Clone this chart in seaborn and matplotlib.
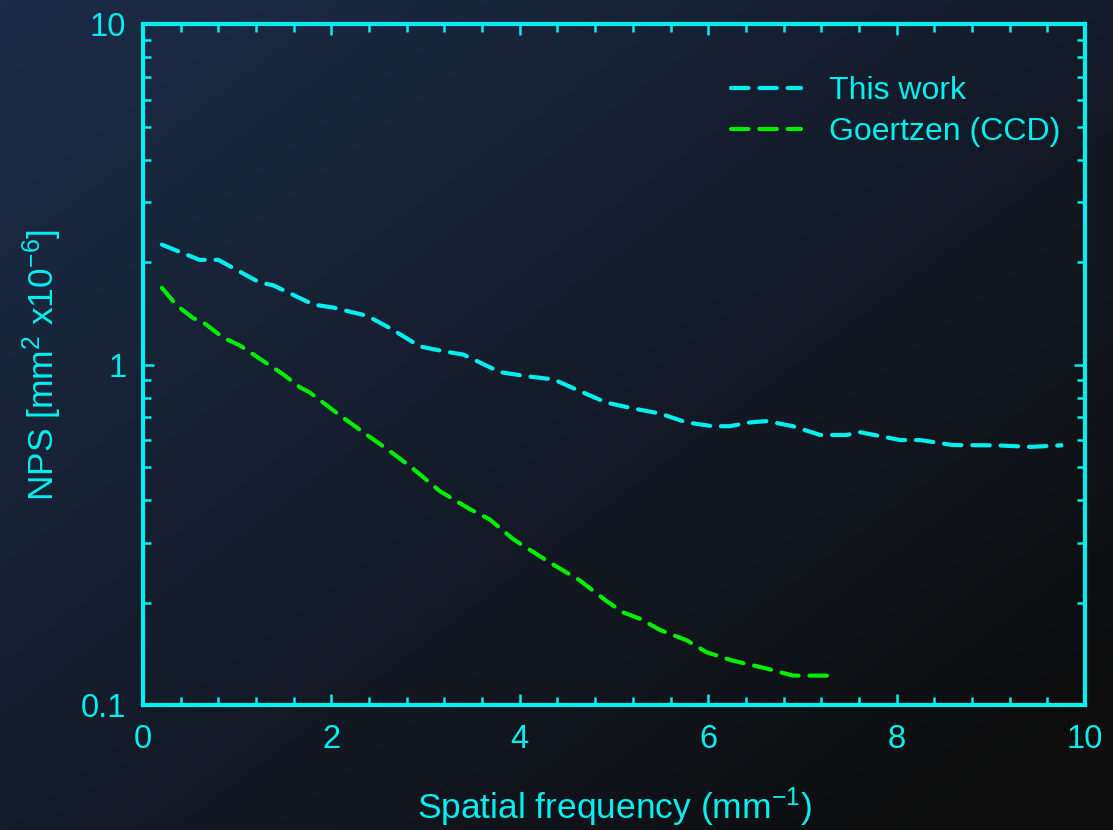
import numpy as np
import matplotlib
matplotlib.use("Agg")
import matplotlib.pyplot as plt
from matplotlib.ticker import FixedLocator, NullFormatter, LogLocator
import seaborn as sns

# "This work" NPS curve
freq_this = [0.2, 0.6, 0.8, 1.24, 1.38, 1.81, 2.02, 2.38, 2.62, 2.94, 3.22, 3.40,
             3.79, 4.07, 4.36, 4.64, 4.92, 5.20, 5.49, 5.77, 6.05, 6.23, 6.44, 6.62,
             6.90, 7.19, 7.47, 7.61, 8.04, 8.25, 8.60, 9.06, 9.42, 9.75]
nps_this = [2.25, 2.03, 2.03, 1.74, 1.71, 1.50, 1.47, 1.39, 1.28, 1.13, 1.09, 1.07,
            0.95, 0.924, 0.904, 0.835, 0.773, 0.743, 0.718, 0.676, 0.659, 0.659, 0.676, 0.682,
            0.659, 0.621, 0.621, 0.633, 0.600, 0.600, 0.580, 0.579, 0.573, 0.579]

# Goertzen (CCD) NPS curve
freq_goertzen = [0.2, 0.36, 0.53, 0.64, 0.85, 1.03, 1.49, 1.67, 1.77, 2.05, 2.34, 2.62,
                 2.85, 3.15, 3.47, 3.68, 3.93, 4.32, 4.64, 4.92, 5.10, 5.28, 5.49, 5.77,
                 5.98, 6.26, 6.62, 6.90, 7.37]
nps_goertzen = [1.68, 1.49, 1.37, 1.33, 1.20, 1.137, 0.935, 0.856, 0.828, 0.723, 0.632, 0.557,
                0.499, 0.425, 0.376, 0.351, 0.307, 0.262, 0.232, 0.202, 0.187, 0.179, 0.166, 0.155,
                0.143, 0.135, 0.128, 0.122, 0.122]

x_ticks = [0, 2, 4, 6, 8, 10]
y_ticks = [0.1, 1, 10]
y_ticklabels = ["0.1", "1", "10"]

CYAN = "#00f0f0"
GREEN = "#00ee00"

sns.set_theme(style="ticks")
plt.rcParams["font.family"] = ["Liberation Sans", "DejaVu Sans"]
plt.rcParams["mathtext.fontset"] = "custom"
plt.rcParams["mathtext.rm"] = "Liberation Sans"
plt.rcParams["mathtext.default"] = "regular"

fig = plt.figure(figsize=(11.13, 8.3), dpi=100)

# dark gradient background
bg = fig.add_axes([0, 0, 1, 1], zorder=0)
h, w = 200, 270
yy, xx = np.mgrid[0:h, 0:w]
t = np.clip((xx / w) * 0.55 + (yy / h) * 0.55, 0, 1) ** 1.1
c0 = np.array([0.11, 0.17, 0.28])
c1 = np.array([0.05, 0.05, 0.05])
img = c0[None, None, :] * (1 - t[..., None]) + c1[None, None, :] * t[..., None]
bg.imshow(img, aspect="auto", extent=[0, 1, 0, 1], interpolation="bilinear")
bg.set_axis_off()

ax = fig.add_axes([0.1285, 0.1506, 0.8463, 0.8204], zorder=1)
ax.set_facecolor("none")

dash = (0, (4.2, 2.6))
sns.lineplot(x=freq_this, y=nps_this, ax=ax, color=CYAN, lw=3.0, linestyle=dash,
             dash_capstyle="round", label="This work", sort=False)
sns.lineplot(x=freq_goertzen, y=nps_goertzen, ax=ax, color=GREEN, lw=3.0, linestyle=dash,
             dash_capstyle="round", label="Goertzen (CCD)", sort=False)

ax.set_yscale("log")
ax.set_xlim(0, 10)
ax.set_ylim(0.1, 10)

ax.xaxis.set_major_locator(FixedLocator(x_ticks))
ax.xaxis.set_minor_locator(FixedLocator(np.arange(0, 10.01, 0.4)))
ax.yaxis.set_major_locator(FixedLocator(y_ticks))
ax.set_yticklabels(y_ticklabels)
ax.yaxis.set_minor_locator(LogLocator(base=10, subs=np.arange(2, 10)))
ax.yaxis.set_minor_formatter(NullFormatter())

for s in ax.spines.values():
    s.set_color(CYAN)
    s.set_linewidth(3)

ax.tick_params(which="both", direction="in", top=True, right=True, color=CYAN,
               labelcolor=CYAN, labelsize=23.5, width=1.8)
ax.tick_params(which="major", length=8)
ax.tick_params(which="minor", length=5.5)
ax.tick_params(axis="x", pad=14)
ax.tick_params(axis="y", pad=12)

ax.set_xlabel("Spatial frequency (mm$^{-1}$)", color=CYAN, fontsize=25.5)
ax.set_ylabel("NPS [mm$^{2}$ x10$^{-6}$]", color=CYAN, fontsize=25.5)
ax.xaxis.set_label_coords(0.501, -0.118)
ax.yaxis.set_label_coords(-0.084, 0.5)

leg = ax.legend(loc="upper right", bbox_to_anchor=(0.987, 0.942), frameon=False,
                fontsize=23, handlelength=2.2, handletextpad=0.85, labelspacing=0.33,
                borderaxespad=0)
for text in leg.get_texts():
    text.set_color(CYAN)

fig.savefig("out.png", dpi=100)
